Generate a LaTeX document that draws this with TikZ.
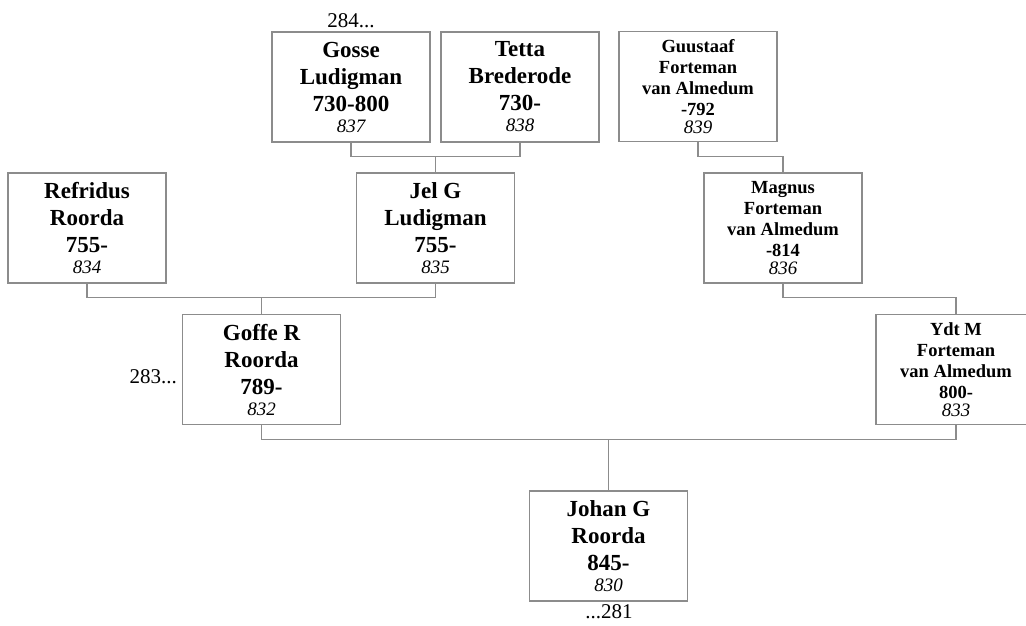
\documentclass[tikz,border=0pt]{standalone}
\usepackage{fontspec}
\setmainfont{Liberation Serif}
\definecolor{boxgray}{HTML}{8C8C8C}
\newcommand\bigname{\fontsize{23}{27}\selectfont\bfseries}
\newcommand\smallname{\fontsize{18.5}{21}\selectfont\bfseries}
\newcommand\refnum[1]{{\fontsize{19}{21}\selectfont\mdseries\itshape #1}}
\tikzset{
  person/.style={draw=boxgray, line width=1.2pt, minimum width=158pt, minimum height=110pt,
    inner sep=0pt, align=center, font=\bigname},
  smallperson/.style={person, font=\smallname},
  link/.style={draw=boxgray, line width=1.1pt},
  note/.style={inner sep=0pt, font=\fontsize{21}{24}\selectfont}
}
\begin{document}
\begin{tikzpicture}[x=1pt,y=-1pt]
\useasboundingbox[fill=white] (0,0) rectangle (1026,626);
\clip (0,0) rectangle (1026,626);

\node[person] (gosse) at (351,87) {Gosse\\Ludigman\\730-800\\[-6pt]\refnum{837}};
\node[person] (tetta) at (520,87) {Tetta\\Brederode\\730-\\[-6pt]\refnum{838}};
\node[smallperson] (guus) at (698,86.5) {Guustaaf\\Forteman\\van Almedum\\-792\\[-3pt]\refnum{839}};
\node[person] (refr) at (87,228) {Refridus\\Roorda\\755-\\[-6pt]\refnum{834}};
\node[person] (jel) at (435.5,228) {Jel G\\Ludigman\\755-\\[-6pt]\refnum{835}};
\node[smallperson] (magnus) at (783,228) {Magnus\\Forteman\\van Almedum\\-814\\[-3pt]\refnum{836}};
\node[person] (goffe) at (261.5,369.5) {Goffe R\\Roorda\\789-\\[-6pt]\refnum{832}};
\node[smallperson, minimum width=160pt] (ydt) at (956,369.5) {Ydt M\\Forteman\\van Almedum\\800-\\[-3pt]\refnum{833}};
\node[person] (johan) at (608.5,546) {Johan G\\Roorda\\845-\\[-6pt]\refnum{830}};

\node[note, anchor=south] (n284) at (351,28) {284...};
\node[note, anchor=east] (n283) at (177,377) {283...};
\node[note, anchor=north] (n281) at (609,604) {...281};

\coordinate (b1) at ([yshift=16pt]jel.north);
\draw[link] (gosse.south) |- (b1) -| (tetta.south);
\draw[link] (b1) -- (jel.north);

\coordinate (b2) at ([yshift=16pt]magnus.north);
\draw[link] (guus.south) |- (b2) -- (magnus.north);

\coordinate (b3) at ([yshift=16pt]goffe.north);
\draw[link] (refr.south) |- (b3) -| (jel.south);
\draw[link] (b3) -- (goffe.north);

\coordinate (b4) at ([yshift=16pt]ydt.north);
\draw[link] (magnus.south) |- (b4) -- (ydt.north);

\coordinate (b5) at ([yshift=51pt]johan.north);
\draw[link] (goffe.south) |- (b5) -| (ydt.south);
\draw[link] (b5) -- (johan.north);
\end{tikzpicture}
\end{document}
